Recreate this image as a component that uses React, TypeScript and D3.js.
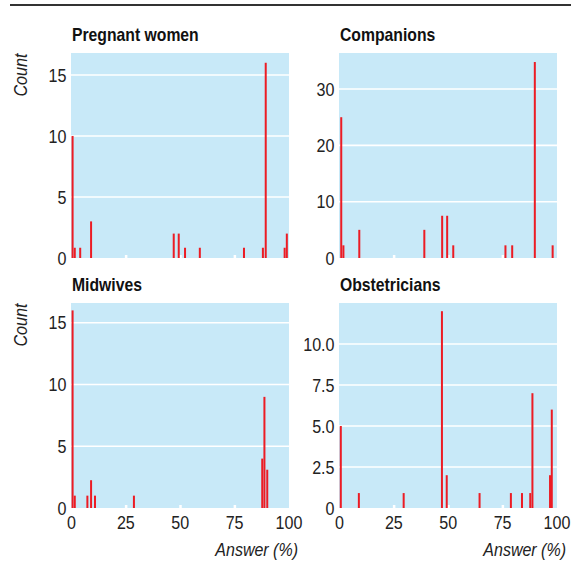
import * as d3 from 'd3';
import React, { useEffect, useRef } from 'react';

// answer (%) positions and counts
const pregnantAnswers = [0.5, 1.5, 4, 9, 47, 49.3, 52.2, 59, 79.3, 88, 89.3, 98, 99];
const pregnantCounts = [10, 0.84, 0.84, 3, 2, 2, 0.84, 0.84, 0.84, 0.84, 16, 0.84, 2];

const companionAnswers = [0.8, 1.8, 9.1, 39, 47.2, 49.5, 52.3, 76.3, 79.4, 89.8, 98];
const companionCounts = [25, 2.25, 5, 5, 7.5, 7.5, 2.25, 2.25, 2.25, 34.8, 2.25];

const midwifeAnswers = [0.5, 1.5, 7.3, 9, 10.8, 28.7, 87.7, 88.7, 90];
const midwifeCounts = [16, 1, 1, 2.25, 1, 1, 4, 9, 3.1];

const obstetricianAnswers = [0.6, 8.9, 29.5, 47.1, 49.3, 64.4, 78.8, 83.9, 87.7, 88.7, 96.8, 97.6];
const obstetricianCounts = [5, 0.91, 0.91, 12, 2, 0.91, 0.91, 0.91, 0.91, 7, 2, 6];

const titles = ['Pregnant women', 'Companions', 'Midwives', 'Obstetricians'];
const yMaxes = [16.8, 36.4, 16.6, 12.5];
const yTicks = [[0, 5, 10, 15], [0, 10, 20, 30], [0, 5, 10, 15], [0, 2.5, 5, 7.5, 10]];
const xTicks = [0, 25, 50, 75, 100];

const FONT = '"Liberation Sans", Arial, sans-serif';

// condensed look: squeeze text horizontally around its anchor
const addText = (g: any, x: number, y: number, str: string, o: any = {}) =>
  g.append('text')
    .attr('transform', `translate(${x},${y}) ${o.rotate ? `rotate(${o.rotate})` : ''} scale(${o.sx ?? 0.87},1)`)
    .attr('text-anchor', o.anchor ?? 'start')
    .attr('dy', o.dy ?? 0)
    .style('font-family', FONT)
    .style('font-size', `${o.size ?? 18.5}px`)
    .style('font-weight', o.weight ?? 'normal')
    .style('font-style', o.italic ? 'italic' : 'normal')
    .attr('fill', o.fill ?? '#222')
    .text(str);

const App = () => {
  const svgRef = useRef<SVGSVGElement>(null);

  useEffect(() => {
    const width = 571;
    const height = 561;
    const panelW = 218;
    const panelH = 205;
    const lefts = [71, 339];
    const tops = [53, 303];

    const series = [
      { answers: pregnantAnswers, counts: pregnantCounts },
      { answers: companionAnswers, counts: companionCounts },
      { answers: midwifeAnswers, counts: midwifeCounts },
      { answers: obstetricianAnswers, counts: obstetricianCounts },
    ];

    const svg = d3.select(svgRef.current);
    svg.selectAll('*').remove();
    svg.attr('width', width).attr('height', height);

    svg.append('rect').attr('width', width).attr('height', height).attr('fill', '#fff');

    // rule at the top
    svg.append('line')
      .attr('x1', 10).attr('x2', width)
      .attr('y1', 5).attr('y2', 5)
      .attr('stroke', '#333').attr('stroke-width', 2);

    series.forEach((s, i) => {
      const col = i % 2;
      const row = Math.floor(i / 2);
      const left = lefts[col];
      const top = tops[row];
      const bottom = top + panelH;

      const x = d3.scaleLinear().domain([0, 100]).range([left + 0.5, left + panelW]);
      const y = d3.scaleLinear().domain([0, yMaxes[i]]).range([bottom, top]);

      const g = svg.append('g');

      g.append('rect')
        .attr('x', left).attr('y', top)
        .attr('width', panelW).attr('height', panelH)
        .attr('fill', '#c8e9f8');

      // grid lines
      g.selectAll('line.grid')
        .data(yTicks[i].filter(t => t > 0))
        .enter().append('line')
        .attr('x1', left).attr('x2', left + panelW)
        .attr('y1', d => y(d)).attr('y2', d => y(d))
        .attr('stroke', '#fff').attr('stroke-width', 1.6);

      // little white ticks at the bottom
      g.selectAll('rect.tick')
        .data([25, 50, 75])
        .enter().append('rect')
        .attr('x', d => x(d) - 1).attr('y', bottom - 3)
        .attr('width', 2.5).attr('height', 3)
        .attr('fill', '#fff');

      // y tick labels
      yTicks[i].forEach(t => {
        const label = t === 0 ? '0' : i === 3 ? d3.format('.1f')(t) : String(t);
        addText(g, left - 4.5, y(t), label, { anchor: 'end', dy: '0.36em' });
      });

      // bars
      g.selectAll('rect.bar')
        .data(s.answers.map((a, j) => ({ a, c: s.counts[j] })))
        .enter().append('rect')
        .attr('x', d => x(d.a) - 1)
        .attr('y', d => y(d.c))
        .attr('width', 2)
        .attr('height', d => bottom - y(d.c))
        .attr('fill', '#ec1c24');

      // title
      addText(g, left + 1, top - 12, titles[i], { size: 17.5, weight: 'bold', sx: 0.9, fill: '#111' });

      if (col === 0) {
        addText(g, 27, top + 22, 'Count', { rotate: -90, anchor: 'middle', size: 18, italic: true, sx: 0.9 });
      }

      if (row === 1) {
        xTicks.forEach(t => {
          addText(g, x(t), bottom + 20.5, String(t), { anchor: 'middle' });
        });
        addText(g, left + panelW + 9, 556, 'Answer (%)', { anchor: 'end', size: 18, italic: true, sx: 0.89 });
      }
    });
  }, []);

  return (
    <div style={{ position: 'absolute', left: 0, top: 0 }}>
      <svg ref={svgRef} style={{ display: 'block' }}></svg>
    </div>
  );
};

export default App;
